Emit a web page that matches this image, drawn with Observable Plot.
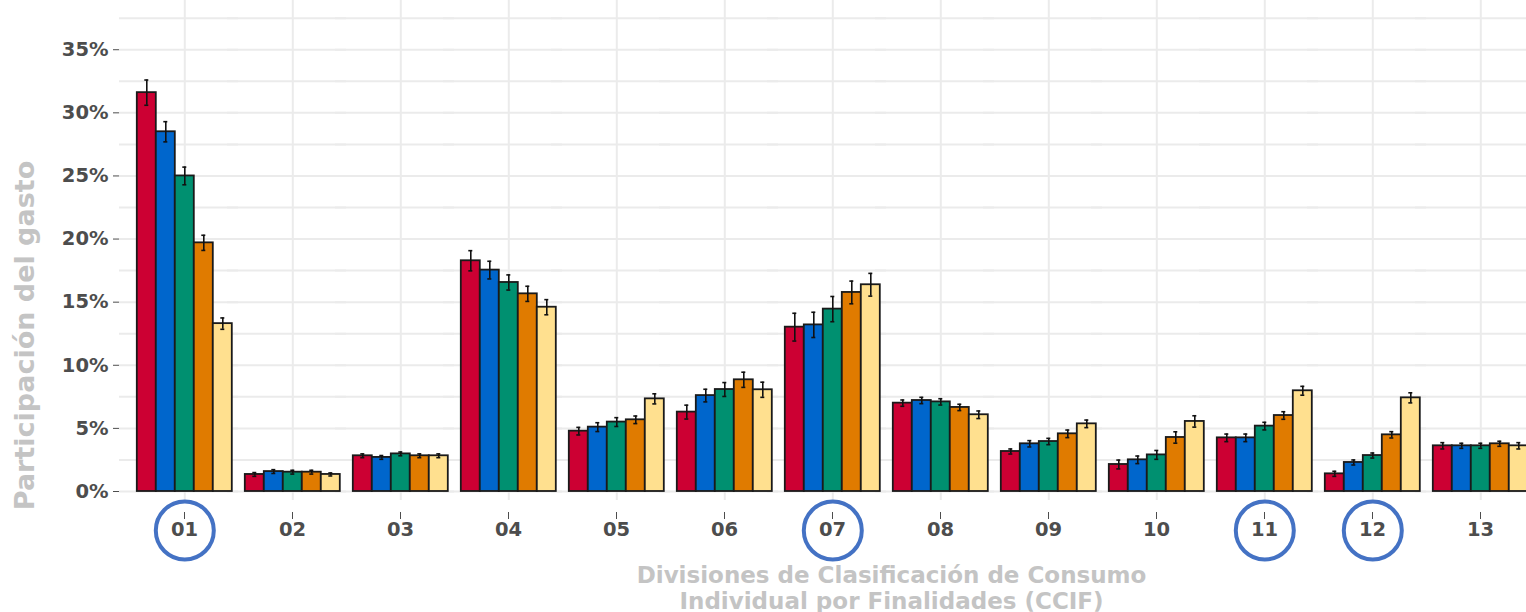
<!DOCTYPE html>
<html>
<head>
<meta charset="utf-8">
<script src="https://cdn.jsdelivr.net/npm/d3@7"></script>
<script src="https://cdn.jsdelivr.net/npm/@observablehq/plot@0.6"></script>
<style>
  html, body { margin: 0; padding: 0; background: #fff; overflow: hidden; width: 1526px; height: 612px; }
</style>
</head>
<body>
<div id="chart"></div>
<script>
// ---- data ----
const categories = ["01","02","03","04","05","06","07","08","09","10","11","12","13"];
const series = ["Q1","Q2","Q3","Q4","Q5"];
const seriesColors = ["#CC0033","#0066CC","#009070","#E07B00","#FFE08F"];
const highlighted = ["01","07","11","12"];

// share of spending (%) per series, by category
const q1 = [31.6, 1.35, 2.83, 18.28, 4.78, 6.29, 13.02, 7.00, 3.17, 2.14, 4.25, 1.40, 3.62];
const q2 = [28.5, 1.58, 2.70, 17.54, 5.10, 7.60, 13.20, 7.21, 3.78, 2.51, 4.25, 2.30, 3.62];
const q3 = [25.0, 1.53, 2.98, 16.56, 5.50, 8.08, 14.45, 7.10, 3.96, 2.90, 5.18, 2.85, 3.62];
const q4 = [19.7, 1.53, 2.83, 15.66, 5.68, 8.85, 15.77, 6.66, 4.57, 4.28, 6.02, 4.49, 3.78];
const q5 = [13.3, 1.35, 2.83, 14.60, 7.34, 8.06, 16.38, 6.08, 5.36, 5.55, 7.98, 7.42, 3.62];
// error bar half-widths (%)
const e1 = [1.00, 0.15, 0.15, 0.80, 0.30, 0.55, 1.10, 0.25, 0.20, 0.35, 0.30, 0.20, 0.25];
const e2 = [0.80, 0.15, 0.15, 0.70, 0.35, 0.50, 1.00, 0.25, 0.25, 0.30, 0.30, 0.20, 0.20];
const e3 = [0.70, 0.15, 0.15, 0.60, 0.35, 0.55, 1.00, 0.25, 0.25, 0.35, 0.30, 0.20, 0.20];
const e4 = [0.60, 0.15, 0.15, 0.60, 0.30, 0.60, 0.90, 0.25, 0.30, 0.45, 0.30, 0.25, 0.20];
const e5 = [0.45, 0.12, 0.15, 0.60, 0.40, 0.60, 0.90, 0.30, 0.30, 0.45, 0.35, 0.40, 0.25];

const yTicks = [0, 5, 10, 15, 20, 25, 30, 35];
const yGrid = [0, 2.5, 5, 7.5, 10, 12.5, 15, 17.5, 20, 22.5, 25, 27.5, 30, 32.5, 35, 37.5];
const yTitle = "Participación del gasto";
const xTitle = "Divisiones de Clasificación de Consumo\nIndividual por Finalidades (CCIF)";

// ---- build table ----
const valueSets = [q1, q2, q3, q4, q5];
const errSets = [e1, e2, e3, e4, e5];
const data = [];
categories.forEach((cat, ci) => {
  series.forEach((s, si) => {
    data.push({cat, series: s, value: valueSets[si][ci], err: errSets[si][ci]});
  });
});

const gridColor = "#ebebeb";
const tickColor = "#4d4d4d";
const titleColor = "#c4c4c4";

const chart = Plot.plot({
  width: 1545,
  height: 612,
  marginLeft: 119.2,
  marginRight: 0,
  marginTop: 0,
  marginBottom: 112,
  style: "max-width:none;background:#fff;font-family:'DejaVu Sans',sans-serif;font-weight:bold;font-size:19.5px;",
  fx: {domain: categories, paddingInner: 0, paddingOuter: 0.1},
  x: {domain: series, paddingInner: 0, paddingOuter: 0.255, axis: null},
  y: {domain: [-0.713, 38.9]},
  color: {domain: series, range: seriesColors},
  marks: [
    Plot.ruleY(yGrid, {stroke: gridColor, strokeWidth: 2, insetLeft: -11}),
    Plot.ruleX(categories, {fx: d => d, x: () => series[2], stroke: gridColor, strokeWidth: 2}),
    Plot.barY(data, {fx: "cat", x: "series", y: "value", fill: "series", stroke: "#1a1a1a", strokeWidth: 1.8}),
    Plot.ruleX(data, {fx: "cat", x: "series", y1: d => d.value - d.err, y2: d => d.value + d.err, stroke: "#111", strokeWidth: 1.6}),
    Plot.tickY(data, {fx: "cat", x: "series", y: d => d.value - d.err, insetLeft: 7.5, insetRight: 7.5, stroke: "#111", strokeWidth: 1.6}),
    Plot.tickY(data, {fx: "cat", x: "series", y: d => d.value + d.err, insetLeft: 7.5, insetRight: 7.5, stroke: "#111", strokeWidth: 1.6}),
    Plot.axisY({ticks: yTicks, tickFormat: d => d + "%", tickSize: 6, tickPadding: 5, dx: -11, label: null, fontSize: 19.5, color: tickColor}),
    Plot.axisFx({anchor: "bottom", tickSize: 7, tickPadding: 3, dy: 12, label: null, fontSize: 19.5, color: tickColor}),
    // axis titles (placed in a single facet so they are drawn once)
    Plot.text([yTitle], {fx: () => categories[0], frameAnchor: "left", textAnchor: "middle", rotate: -90, dx: -105, dy: 85, fontSize: 27, fontWeight: "bold", fill: titleColor, lineAnchor: "middle"}),
    Plot.text([xTitle], {fx: () => categories[7], frameAnchor: "bottom", dx: -49, dy: 87.5, fontSize: 23, fontWeight: "bold", fill: titleColor, lineAnchor: "middle", lineHeight: 1.1}),
    Plot.dot(highlighted, {fx: d => d, x: () => series[2], frameAnchor: "bottom", dy: 30, r: 29, stroke: "#4472C4", strokeWidth: 4, fill: "none"})
  ]
});
document.getElementById("chart").appendChild(chart);
</script>
</body>
</html>
